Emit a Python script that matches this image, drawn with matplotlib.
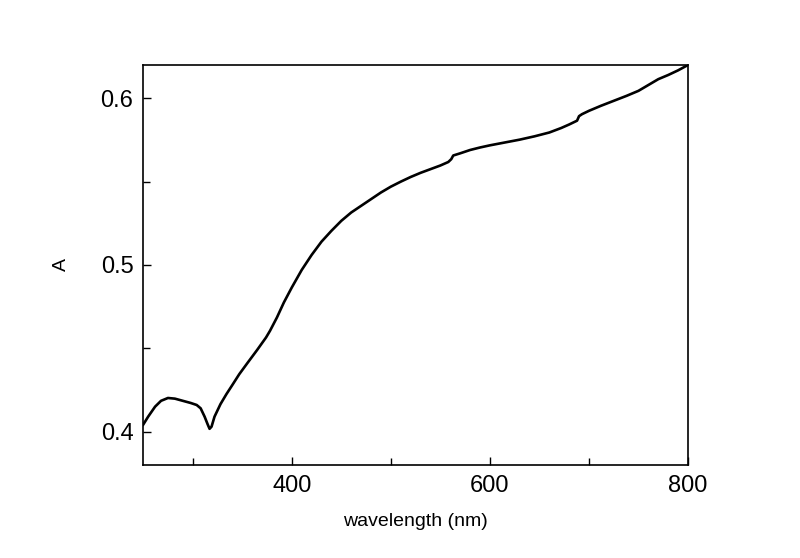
import numpy as np
import matplotlib.pyplot as plt

# datos
wl = [250, 255, 262, 268, 275, 282, 290, 298, 304, 308, 312, 315, 317, 319, 322,
      328, 334, 340, 347, 355, 365, 374, 378, 385, 392, 400, 410, 420, 430, 440,
      450, 460, 470, 480, 490, 500, 510, 520, 530, 540, 550, 558, 561, 563, 570,
      580, 590, 600, 615, 630, 645, 660, 672, 680, 688, 690, 693, 700, 712, 725,
      738, 750, 760, 770, 780, 790, 800]
ab = [0.4042, 0.409, 0.415, 0.4185, 0.4202, 0.4198, 0.4185, 0.4172, 0.416, 0.414, 0.409, 0.4045, 0.4017, 0.403, 0.409,
      0.4165, 0.4225, 0.428, 0.4345, 0.441, 0.449, 0.4565, 0.4605, 0.4685, 0.4775, 0.4865, 0.497, 0.506, 0.514, 0.5205,
      0.5265, 0.5315, 0.5355, 0.5395, 0.5435, 0.547, 0.55, 0.5528, 0.5553, 0.5575, 0.5597, 0.5618, 0.5635, 0.5657, 0.567,
      0.569, 0.5705, 0.5718, 0.5735, 0.5752, 0.5772, 0.5795, 0.5822, 0.5843, 0.5866, 0.5893, 0.5905, 0.5925, 0.5955, 0.5985,
      0.6015, 0.6045, 0.608, 0.6115, 0.614, 0.6168, 0.62]

plt.rcParams['font.family'] = ['Liberation Sans', 'DejaVu Sans']

fig = plt.figure(figsize=(8, 5.58), dpi=100)
ax = fig.add_axes([0.179, 0.1667, 0.681, 0.7168])

ax.plot(wl, ab, color='black', linewidth=1.9)

ax.set_xlim(250, 800)
ax.set_ylim(0.38, 0.62)
ax.set_xticks([400, 600, 800])
ax.set_xticks([300, 500, 700], minor=True)
ax.set_yticks([0.4, 0.5, 0.6])
ax.set_yticks([0.45, 0.55], minor=True)
ax.set_yticklabels(['0.4', '0.5', '0.6'])

ax.tick_params(which='both', direction='in', top=False, right=False,
               width=1.0, labelsize=17)
ax.tick_params(which='major', length=6, pad=7)
ax.tick_params(which='minor', length=5)
for s in ax.spines.values():
    s.set_linewidth(1.2)

ax.set_xlabel('wavelength (nm)', fontsize=14, labelpad=12)
ax.set_ylabel('A', fontsize=14, labelpad=22)

fig.savefig('out.png', dpi=100)
